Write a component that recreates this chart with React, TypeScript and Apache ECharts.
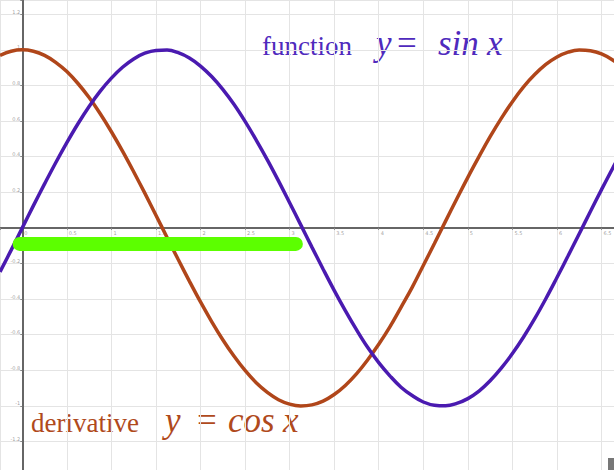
import React, { useEffect, useRef } from "react";
import * as echarts from "echarts";

const xs = [-0.25, -0.125, 0, 0.125, 0.25, 0.375, 0.5, 0.625, 0.75, 0.875, 1, 1.125, 1.25, 1.375, 1.5, 1.625, 1.75, 1.875, 2, 2.125, 2.25, 2.375, 2.5, 2.625, 2.75, 2.875, 3, 3.125, 3.25, 3.375, 3.5, 3.625, 3.75, 3.875, 4, 4.125, 4.25, 4.375, 4.5, 4.625, 4.75, 4.875, 5, 5.125, 5.25, 5.375, 5.5, 5.625, 5.75, 5.875, 6, 6.125, 6.25, 6.375, 6.5, 6.625, 6.75];
const sinValues = [-0.247, -0.125, 0, 0.125, 0.247, 0.366, 0.479, 0.585, 0.682, 0.768, 0.841, 0.902, 0.949, 0.981, 0.997, 0.999, 0.984, 0.954, 0.909, 0.85, 0.778, 0.694, 0.598, 0.493, 0.382, 0.264, 0.141, 0.017, -0.108, -0.231, -0.351, -0.465, -0.572, -0.671, -0.757, -0.831, -0.895, -0.942, -0.978, -0.996, -0.999, -0.986, -0.959, -0.917, -0.859, -0.788, -0.706, -0.613, -0.51, -0.398, -0.279, -0.157, -0.033, 0.092, 0.215, 0.335, 0.45];
const cosValues = [0.969, 0.992, 1.0, 0.992, 0.969, 0.93, 0.878, 0.811, 0.732, 0.641, 0.54, 0.431, 0.315, 0.195, 0.071, -0.054, -0.178, -0.299, -0.416, -0.526, -0.628, -0.72, -0.801, -0.87, -0.924, -0.965, -0.99, -1.0, -0.994, -0.973, -0.936, -0.885, -0.82, -0.742, -0.654, -0.556, -0.446, -0.334, -0.211, -0.088, 0.038, 0.162, 0.284, 0.4, 0.512, 0.615, 0.709, 0.792, 0.861, 0.918, 0.96, 0.987, 0.999, 0.995, 0.977, 0.943, 0.893];
const highlightX = [-0.03, 3.07];
const highlightY = [-0.09, -0.09];
const xTickLabels = [0, 0.5, 1, 1.5, 2, 2.5, 3, 3.5, 4, 4.5, 5, 5.5, 6, 6.5];
const yTickLabels = [1.2, 1, 0.8, 0.6, 0.4, 0.2, -0.2, -0.4, -0.6, -0.8, -1, -1.2];

const PURPLE = "#4a1ab0";
const BROWN = "#b0461a";

export default function App() {
  const ref = useRef<HTMLDivElement>(null);
  useEffect(() => {
    if (!ref.current) return;
    const chart = echarts.init(ref.current, undefined, { renderer: "svg" });
    const serif = '"Liberation Serif", "DejaVu Serif", serif';
    const tickFont = { fontSize: 5, color: "#888", fontFamily: "DejaVu Sans" };
    chart.setOption({
      animation: false,
      backgroundColor: "#ffffff",
      grid: { left: 0, right: 0, top: 0, bottom: 0, containLabel: false, outerBoundsMode: "none" },
      xAxis: {
        type: "value",
        min: -0.25,
        max: 6.64,
        splitNumber: 14,
        axisLine: { onZero: true, lineStyle: { color: "#666", width: 2 } },
        axisTick: { show: true, length: 2, lineStyle: { color: "#888" } },
        axisLabel: { show: false },
        splitLine: { show: true, lineStyle: { color: "#e4e4e4", width: 1 } },
      },
      yAxis: {
        type: "value",
        min: -1.36,
        max: 1.28,
        splitNumber: 13,
        axisLine: { onZero: true, lineStyle: { color: "#666", width: 2 } },
        axisTick: { show: true, length: 2, lineStyle: { color: "#888" } },
        axisLabel: { show: false },
        splitLine: { show: true, lineStyle: { color: "#e4e4e4", width: 1 } },
      },
      series: [
        {
          type: "scatter",
          silent: true,
          symbolSize: 0,
          data: xTickLabels.map((t) => [t, 0]),
          label: { show: true, position: [2, 3], formatter: (p: any) => String(p.value[0]), ...tickFont },
          z: 1,
        },
        {
          type: "scatter",
          silent: true,
          symbolSize: 0,
          data: yTickLabels.map((t) => [0, t]),
          label: { show: true, position: [-2, 0], align: "right", verticalAlign: "bottom", formatter: (p: any) => String(p.value[1]), ...tickFont },
          z: 1,
        },
        {
          type: "line",
          data: xs.map((x, i) => [x, cosValues[i]]),
          smooth: 0.4,
          showSymbol: false,
          lineStyle: { color: BROWN, width: 3.5 },
          z: 3,
        },
        {
          type: "line",
          data: xs.map((x, i) => [x, sinValues[i]]),
          smooth: 0.4,
          showSymbol: false,
          lineStyle: { color: PURPLE, width: 3.5 },
          z: 4,
        },
        {
          type: "line",
          data: highlightX.map((x, i) => [x, highlightY[i]]),
          showSymbol: false,
          lineStyle: { color: "#5cff00", width: 14, cap: "round" },
          z: 5,
        },
      ],
      graphic: [
        { type: "text", x: 262, y: 46, style: { text: "function", font: `27px ${serif}`, fill: "#4f2abd", verticalAlign: "middle" } },
        { type: "text", x: 376, y: 43, style: { text: "y", font: `italic 35px ${serif}`, fill: "#4f2abd", verticalAlign: "middle" } },
        { type: "text", x: 397, y: 43, style: { text: "=", font: `35px ${serif}`, fill: "#4f2abd", verticalAlign: "middle" } },
        { type: "text", x: 438, y: 43, style: { text: "sin", font: `italic 35px ${serif}`, fill: "#4f2abd", verticalAlign: "middle" } },
        { type: "text", x: 487, y: 43, style: { text: "x", font: `italic 35px ${serif}`, fill: "#4f2abd", verticalAlign: "middle" } },
        { type: "text", x: 31, y: 423, style: { text: "derivative", font: `27px ${serif}`, fill: "#b04a1c", verticalAlign: "middle" } },
        { type: "text", x: 165, y: 420, style: { text: "y", font: `italic 35px ${serif}`, fill: "#b04a1c", verticalAlign: "middle" } },
        { type: "text", x: 197, y: 420, style: { text: "=", font: `35px ${serif}`, fill: "#b04a1c", verticalAlign: "middle" } },
        { type: "text", x: 228, y: 420, style: { text: "cos", font: `italic 35px ${serif}`, fill: "#b04a1c", verticalAlign: "middle" } },
        { type: "text", x: 283, y: 420, style: { text: "x", font: `italic 35px ${serif}`, fill: "#b04a1c", verticalAlign: "middle" } },
        { type: "rect", shape: { x: 608, y: 458, width: 6, height: 12 }, style: { fill: "#777" } },
      ],
    });
    return () => chart.dispose();
  }, []);
  return <div ref={ref} style={{ position: "absolute", left: 0, top: 0, width: 614, height: 470 }} />;
}
